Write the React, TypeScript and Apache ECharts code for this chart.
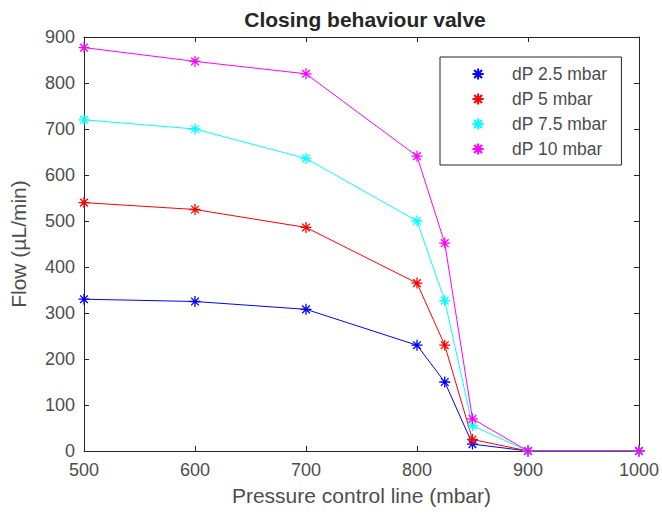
import React, { useEffect, useRef } from "react";
import * as echarts from "echarts";

const pressure = [500, 600, 700, 800, 825, 850, 900, 1000];
const dP25 = [330, 325, 308, 230, 150, 15, 0, 0];
const dP5 = [540, 525, 486, 365, 230, 25, 0, 0];
const dP75 = [720, 700, 636, 500, 327, 55, 0, 0];
const dP10 = [877, 847, 820, 641, 452, 70, 0, 0];
const seriesNames = ["dP 2.5 mbar", "dP 5 mbar", "dP 7.5 mbar", "dP 10 mbar"];
const colors = ["#0000ff", "#ff0000", "#00ffff", "#ff00ff"];

const star = "path://M0,-10L0,10M-10,0L10,0M-7,-7L7,7M-7,7L7,-7";
const FONT = "Liberation Sans, Arial, Helvetica, sans-serif";
const AX = "#262626";
const LBL = "#4d4d4d";

export default function App() {
  const ref = useRef<HTMLDivElement>(null);
  useEffect(() => {
    const chart = echarts.init(ref.current!, undefined, { renderer: "svg" });
    const all = [dP25, dP5, dP75, dP10];
    const series = all.map((vals, i) => ({
      name: seriesNames[i],
      type: "line",
      xAxisIndex: 0,
      yAxisIndex: 0,
      data: pressure.map((p, j) => [p, vals[j]]),
      symbol: star,
      symbolSize: 11,
      showAllSymbol: true,
      lineStyle: { color: colors[i], width: 1 },
      itemStyle: { color: "none", borderColor: colors[i], borderWidth: 1.3 },
      emphasis: { disabled: true },
    }));
    const axisCommon = {
      axisLine: { show: true, onZero: false, lineStyle: { color: AX, width: 1 } },
      axisTick: { show: true, inside: true, length: 5, lineStyle: { color: AX } },
      splitLine: { show: false },
    };
    chart.setOption({
      animation: false,
      backgroundColor: "#fff",
      textStyle: { fontFamily: FONT },
      title: {
        text: "Closing behaviour valve",
        left: 360,
        textAlign: "center",
        top: 4,
        textStyle: { fontFamily: FONT, fontSize: 21, fontWeight: "bold", color: "#262626" },
      },
      grid: { left: 82, right: 22, top: 37, bottom: 66 },
      legend: {
        orient: "vertical",
        left: 440,
        top: 57,
        padding: [8, 14, 7, 30],
        itemGap: 7,
        itemWidth: 14,
        itemHeight: 14,
        borderColor: "#262626",
        borderWidth: 1,
        backgroundColor: "#fff",
        data: seriesNames,
        lineStyle: { opacity: 0 },
        textStyle: { fontFamily: FONT, fontSize: 17.5, lineHeight: 18, color: LBL, padding: [0, 0, 0, 22] },
      },
      xAxis: [
        {
          type: "value",
          min: 500,
          max: 1000,
          interval: 100,
          position: "bottom",
          name: "Pressure control line (mbar)",
          nameLocation: "middle",
          nameGap: 34,
          nameTextStyle: { fontFamily: FONT, fontSize: 21, color: LBL },
          axisLabel: { fontFamily: FONT, fontSize: 18, color: LBL, margin: 10, formatter: (v: number) => String(v) },
          ...axisCommon,
        },
        {
          type: "value",
          min: 500,
          max: 1000,
          interval: 100,
          position: "top",
          axisLabel: { show: false },
          ...axisCommon,
        },
      ],
      yAxis: [
        {
          type: "value",
          min: 0,
          max: 900,
          interval: 100,
          position: "left",
          name: "Flow (µL/min)",
          nameLocation: "middle",
          nameGap: 55,
          nameTextStyle: { fontFamily: FONT, fontSize: 21, color: LBL },
          axisLabel: { fontFamily: FONT, fontSize: 18, color: LBL, margin: 9, formatter: (v: number) => String(v) },
          ...axisCommon,
        },
        {
          type: "value",
          min: 0,
          max: 900,
          interval: 100,
          position: "right",
          axisLabel: { show: false },
          ...axisCommon,
        },
      ],
      series,
    });
    return () => chart.dispose();
  }, []);
  return (
    <div
      ref={ref}
      style={{ position: "fixed", left: 0, top: 0, width: 662, height: 517, overflow: "visible" }}
    />
  );
}
